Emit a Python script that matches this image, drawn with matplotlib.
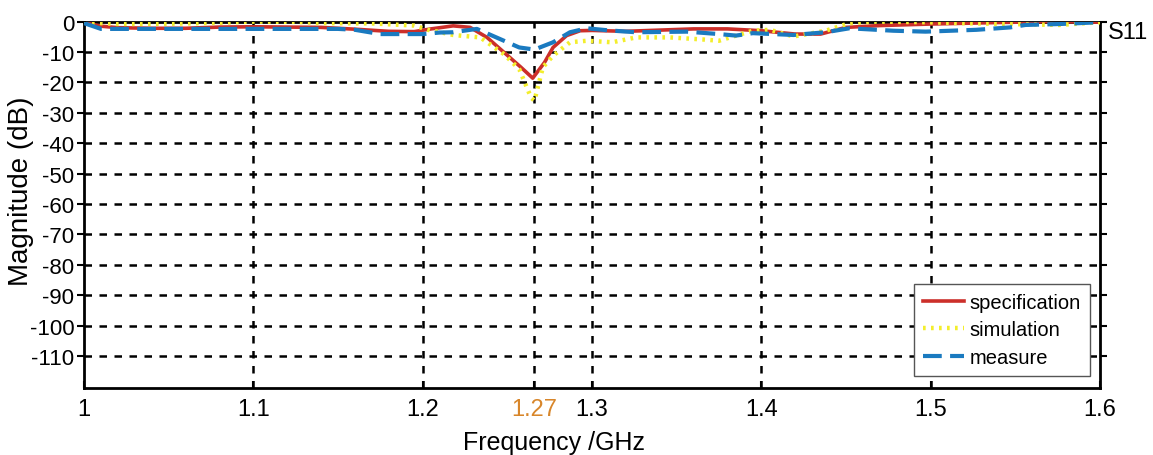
import matplotlib
matplotlib.use("Agg")
import matplotlib.pyplot as plt

plt.rcParams['font.family'] = ['Liberation Sans', 'DejaVu Sans']

# ---- data ----
spec_f = [1.000, 1.010, 1.020, 1.040, 1.060, 1.080, 1.100, 1.120, 1.140, 1.160, 1.180, 1.195,
          1.205, 1.218, 1.228, 1.238, 1.248, 1.258, 1.265, 1.272, 1.277, 1.285, 1.293, 1.300,
          1.320, 1.340, 1.360, 1.380, 1.400, 1.420, 1.435, 1.450, 1.470, 1.500, 1.540, 1.570, 1.600]
spec_db = [-0.3, -1.5, -2.0, -2.2, -2.2, -1.8, -1.7, -1.8, -1.9, -2.5, -3.2, -3.3,
           -2.4, -1.4, -1.9, -5.2, -10.1, -15.0, -18.6, -13.4, -8.5, -4.6, -3.0, -2.9,
           -3.2, -2.8, -2.4, -2.4, -3.0, -4.1, -4.1, -1.9, -1.3, -0.8, -0.3, 0.0, -0.2]

sim_f = [1.000, 1.020, 1.050, 1.080, 1.100, 1.125, 1.140, 1.170, 1.195, 1.205, 1.208, 1.218,
         1.234, 1.248, 1.257, 1.264, 1.266, 1.271, 1.277, 1.287, 1.297, 1.312, 1.326, 1.346,
         1.366, 1.375, 1.385, 1.395, 1.405, 1.419, 1.438, 1.452, 1.468, 1.497, 1.517, 1.556,
         1.576, 1.600]
sim_db = [-0.2, -0.8, -0.7, -0.4, 0.0, -0.1, -0.5, -0.6, -1.3, -3.0, -3.2, -4.4,
          -5.2, -10.7, -15.6, -25.0, -26.0, -15.0, -11.2, -6.8, -6.3, -6.8, -5.2, -5.2,
          -5.9, -6.3, -4.6, -3.0, -2.7, -4.9, -3.0, -0.5, 0.0, -0.2, -0.5, -0.9,
          -1.1, -0.2]

meas_f = [1.000, 1.010, 1.040, 1.060, 1.100, 1.150, 1.160, 1.175, 1.200, 1.210, 1.218, 1.232,
          1.248, 1.257, 1.266, 1.277, 1.287, 1.297, 1.310, 1.326, 1.356, 1.375, 1.385, 1.395,
          1.419, 1.438, 1.452, 1.478, 1.497, 1.527, 1.547, 1.556, 1.576, 1.600]
meas_db = [-0.5, -2.4, -2.4, -2.4, -2.4, -2.4, -2.7, -4.1, -4.1, -3.6, -3.5, -2.4,
           -6.3, -8.5, -9.2, -6.8, -3.5, -2.2, -2.9, -3.5, -3.3, -4.1, -4.6, -3.8,
           -4.4, -3.5, -2.2, -3.0, -3.3, -2.7, -1.9, -1.1, -0.8, -0.2]

xticks = [1.0, 1.1, 1.2, 1.266, 1.3, 1.4, 1.5, 1.6]
xtick_labels = ['1', '1.1', '1.2', '1.27', '1.3', '1.4', '1.5', '1.6']
yticks = [0, -10, -20, -30, -40, -50, -60, -70, -80, -90, -100, -110]

# ---- figure ----
W, H = 1153, 456
fig = plt.figure(figsize=(W/100, H/100), dpi=100)
L, R, T, B = 84, 1100, 22.6, 389
ax = fig.add_axes([L/W, 1-B/H, (R-L)/W, (B-T)/H])

grid_kw = dict(color='black', lw=1.8, ls=(0, (3.0, 3.0)), zorder=1)
for y in yticks[1:]:
    ax.axhline(y, **grid_kw)
for x in xticks[1:-1]:
    ax.axvline(x, **grid_kw)

ax.plot(spec_f, spec_db, color='#cc2f2a', lw=2.6, label='specification', zorder=3)
ax.plot(sim_f, sim_db, color='#f3ee2c', lw=3.2, ls=(0, (0.6, 1.2)), label='simulation', zorder=4,
        dash_capstyle='butt')
ax.plot(meas_f, meas_db, color='#1a7ac0', lw=3.0, ls=(0, (4.5, 2.0)), label='measure', zorder=5)

ax.set_xlim(1.0, 1.6)
ax.set_ylim(-120.5, 0)
ax.set_xticks(xticks)
ax.set_xticklabels(xtick_labels, fontsize=17)
ax.get_xticklabels()[3].set_color('#d8862a')
ax.set_yticks(yticks)
ax.set_yticklabels([str(v) for v in yticks], fontsize=16)
ax.tick_params(axis='x', direction='in', length=5, width=1.5, pad=7, top=False)
ax.tick_params(axis='y', direction='out', length=5, width=1.5, pad=2, right=True)
ax.tick_params(axis='y', which='both', labelright=False)

for s in ax.spines.values():
    s.set_linewidth(2.0)
    s.set_color('black')

ax.set_ylabel('Magnitude (dB)', fontsize=20)
ax.yaxis.set_label_coords((34 - L)/(R - L), (B - 191)/(B - T))
ax.set_xlabel('Frequency /GHz', fontsize=18)
ax.xaxis.label.set_va('baseline')
ax.xaxis.set_label_coords((554 - L)/(R - L), (B - 450)/(B - T))

ax.text(1.008, (B - 33.5)/(B - T), 'S11', transform=ax.transAxes, fontsize=17,
        ha='left', va='center')

leg = ax.legend(loc='lower right', bbox_to_anchor=((1090 - L)/(R - L), (B - 377)/(B - T)),
                fontsize=14.5, handlelength=2.0, labelspacing=0.43, borderpad=0.45,
                handletextpad=0.3, borderaxespad=0.0,
                fancybox=False, framealpha=1, edgecolor='#555555')
leg.get_frame().set_linewidth(1.0)

fig.savefig('out.png', dpi=100)
